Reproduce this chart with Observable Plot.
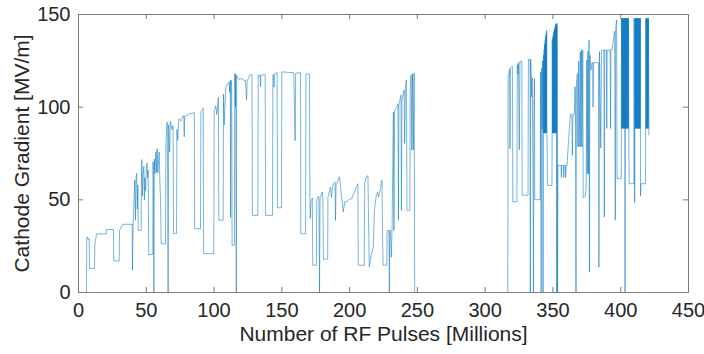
<!DOCTYPE html>
<html>
<head>
<meta charset="utf-8">
<script src="https://cdn.jsdelivr.net/npm/d3@7"></script>
<script src="https://cdn.jsdelivr.net/npm/@observablehq/plot@0.6"></script>
<style>
  html, body { margin: 0; padding: 0; background: #fff; }
  #chart { width: 704px; height: 354px; }
</style>
</head>
<body>
<div id="chart"></div>
<script>
// Number of RF pulses [millions], first campaign (to the long pause)
const pulsesLeft = [
  0, 5.9, 6.1, 6.6, 7.2, 7.9, 8.1, 11.8, 12.1, 13.3, 20.4, 20.6, 25.8, 26, 30, 30.3, 32.5, 39.6, 39.8, 40.3,
  40.8, 41.5, 42, 42.5, 43, 43.4, 43.8, 44.1, 46.2, 46.4, 46.7, 47.2, 47.6, 48.2, 48.6, 49, 49.5, 50, 50.6, 51,
  51.4, 51.8, 54.8, 55, 55.3, 55.6, 55.9, 56.4, 57, 57.5, 58, 58.5, 59.5, 60, 60.5, 61, 64.2, 64.5, 65.4, 65.8,
  66.1, 66.5, 67.2, 67.8, 69, 69.8, 70.1, 72.3, 72.6, 73.2, 74, 75.5, 77, 77.7, 78, 78.3, 80, 81.6, 83, 85.5,
  85.7, 90, 90.3, 92, 92.3, 99.8, 100.1, 101.3, 102, 103.2, 103.5, 106.7, 107, 107.5, 108.6, 110, 111.1, 111.5, 112, 112.2,
  112.5, 113, 113.3, 115, 115.3, 115.7, 116, 116.4, 116.7, 118.3, 120, 122, 123.2, 124, 124.4, 126.4, 128, 128.3, 132.3, 132.6,
  134, 134.3, 134.6, 137.7, 138, 143.1, 143.4, 144, 144.3, 144.6, 146.5, 146.8, 149.7, 150, 158.8, 159.8, 160.2, 163.8, 164, 167.5,
  167.8, 170.4, 170.7, 171, 171.5, 172.5, 172.8, 175.5, 175.8, 177, 177.4, 177.8, 178.2, 179.9, 180.3, 180.7, 183.8, 184, 185.9, 186.5,
  188, 189.3, 189.6, 190, 192.5, 193.5, 195.3, 196.5, 198.2, 200, 201.5, 206.1, 206.4, 210.8, 211.1, 212.1, 213.5, 214.5, 216, 217.5,
  218.3, 219.5, 220.6, 221.5, 223.9, 224.3, 224.7, 227.4, 227.7, 229, 229.3, 229.6, 230.2, 230.7, 231.3, 232.3, 232.7, 233.2, 234.9, 235.7,
  236, 236.4, 237.9, 238.2, 238.6, 240.2, 240.6, 241.2, 242, 242.3, 244.4, 244.7, 245.4, 245.9, 246.4, 247, 247.6, 248, 316.7
];
// Cathode gradient [MV/m], first campaign
const gradientLeft = [
  0, 0, 29, 30, 28.5, 29, 13, 13, 26, 31.6, 31.6, 34, 34, 17, 17, 33.5, 36.8, 36.8, 12, 38,
  46, 60.7, 39, 63, 64.3, 45, 58, 33.5, 33.5, 60, 71.7, 52, 65, 68, 50, 62, 55, 66, 70, 62,
  66, 20.5, 20.5, 70.5, 60, 0, 72, 64, 75.8, 65, 77.5, 64.3, 75.8, 60.7, 50, 26.3, 26.3, 81.3, 92, 60,
  0, 90.5, 75.8, 92.3, 88, 90, 31.8, 31.8, 88, 82, 93.8, 92.5, 95, 95.6, 84, 95, 95.5, 96.5, 96.5, 97,
  34.4, 34.4, 97.7, 99.5, 21, 21, 98, 100.7, 96, 105.3, 39, 39, 107, 90.5, 110.8, 112.6, 113.5, 108, 114.5, 40.4,
  114.5, 113, 25.5, 25.5, 118, 100, 118, 0, 117, 115, 115.5, 114.5, 114.5, 104, 114, 117.4, 117.4, 41.6, 41.6, 117.4,
  117, 111, 117.4, 117.4, 41.6, 41.6, 117.4, 117.5, 110.8, 118, 118.6, 45.7, 45.7, 119, 118.6, 82, 118.3, 118.6, 31.7, 31.7,
  118, 117.8, 50, 40, 49, 51, 14.7, 14.7, 50, 52, 50, 0, 51, 54.2, 50, 18, 18, 51.5, 56.9, 51.5,
  58.7, 59.6, 38.9, 58, 62.4, 56, 43.5, 49, 49, 50.5, 50.5, 58.7, 14.7, 14.7, 58.7, 62.3, 63, 13.8, 20.6, 24,
  44.3, 51.6, 54.2, 51.6, 60.6, 31.7, 14.7, 14.7, 33.5, 33.5, 0, 33.5, 33.5, 19, 33.5, 97.4, 33.5, 98, 100, 101.8,
  39, 101.5, 106.5, 44.3, 103, 109.2, 80.4, 112, 114.7, 44.3, 44.3, 110, 117.4, 76.9, 118, 76.9, 118.5, 0, 0
];
// Number of RF pulses [millions], second campaign
const pulsesRight = [
  316.9, 317.5, 318, 318.3, 318.6, 320.1, 320.4, 323.4, 323.7, 324.3,
  324.5, 325.2, 325.6, 327, 327.3, 331.6, 331.9, 333.1, 333.3, 333.6,
  334.3, 334.7, 335.3, 335.6, 336, 336.4, 336.6, 340.6, 340.9, 341.3,
  341.6, 342, 342.4, 342.7, 343, 343.2, 343.4, 343.6, 343.8, 344,
  344.2, 344.4, 344.6, 344.8, 345, 345.2, 345.4, 345.6, 346, 349.3,
  349.5, 349.7, 349.9, 350.1, 350.3, 350.5, 350.7, 350.9, 351.1, 351.3,
  351.5, 351.7, 351.9, 352.1, 352.3, 352.5, 352.6, 352.8, 353.1, 353.4,
  353.7, 356, 356.2, 356.5, 357.8, 358, 358.3, 359.2, 359.4, 359.7,
  360.4, 361.5, 362.9, 364, 364.3, 364.7, 365.8, 366.3, 366.6, 367,
  367.3, 368, 368.4, 369, 369.3, 370.2, 370.5, 371, 371.4, 372,
  372.3, 373.8, 374.5, 375, 375.3, 375.8, 376.2, 376.6, 376.9, 377.3,
  378, 378.8, 379.3, 379.6, 380, 383.6, 383.9, 384.3, 385.3, 385.8,
  387.6, 387.9, 388.2, 389.4, 389.7, 390, 392.2, 392.5, 392.8, 393.6,
  394.5, 395.5, 396, 396.3, 397, 397.3, 400.4, 400.6, 400.8, 401,
  401.2, 401.4, 401.6, 401.8, 402, 402.2, 402.4, 402.6, 402.8, 403,
  403.2, 403.4, 403.6, 403.8, 404, 404.2, 404.4, 404.6, 404.8, 405,
  405.2, 405.4, 405.6, 405.8, 406, 406.2, 409.7, 409.9, 410.1, 410.3,
  410.5, 410.7, 410.9, 411.1, 411.3, 411.5, 411.7, 411.9, 412.1, 412.3,
  412.5, 412.7, 412.9, 413.1, 413.3, 413.5, 413.7, 413.9, 414.1, 414.3,
  414.5, 414.6, 415, 418.3, 418.5, 418.7, 418.9, 419.1, 419.3, 419.5,
  419.7, 419.9, 420.1, 420.3, 420.5, 420.8
];
// Cathode gradient [MV/m], second campaign
const gradientRight = [
  117.4, 118, 120.4, 77.5, 121.3, 122, 49, 49, 123, 118,
  124, 77, 124.5, 124.8, 52.5, 52.5, 125.8, 125.8, 0, 125.8,
  105.5, 116, 57.8, 0, 104.6, 115.5, 50.1, 50.1, 119, 0,
  121, 88, 125, 0, 128, 86, 131, 86, 134, 86,
  136, 86, 138.5, 86, 140, 86, 141.6, 86, 57.8, 57.8,
  136, 86, 138, 86, 139.5, 86, 141, 86, 142.3, 86,
  143.3, 86, 144.4, 86, 145, 86, 145.2, 0, 145, 0,
  68.6, 68.6, 62, 68.6, 68.6, 62, 68.6, 68.6, 62, 68.6,
  68.6, 82, 96.2, 96, 74, 96, 96.2, 111, 104, 0,
  112, 118, 78.6, 125, 78.6, 129.9, 78.6, 131, 78.6, 130.8,
  51, 52, 56, 125.4, 64, 130, 64, 136.2, 11, 128,
  120, 124, 124, 100, 124, 124, 13.7, 130, 78, 130.5,
  131, 40.7, 130.8, 130.8, 88.5, 130.8, 130.8, 88.5, 131, 131,
  136, 141, 39, 143, 147, 61.4, 61.4, 148, 88.5, 148,
  88.5, 148, 88.5, 148, 88.5, 148, 88.5, 148, 88.5, 148,
  0, 148, 88.5, 148, 88.5, 148, 88.5, 148, 88.5, 148,
  88.5, 148, 88.5, 148, 88.5, 58.7, 58.7, 148, 88.5, 48.4,
  148, 88.5, 148, 88.5, 148, 88.5, 148, 88.5, 148, 88.5,
  148, 88.5, 148, 88.5, 148, 88.5, 148, 88.5, 148, 88.5,
  148, 52, 58.7, 58.7, 148, 88.5, 148, 88.5, 148, 88.5,
  148, 88.5, 148, 88.5, 148, 85
];
const xTicks = [0, 50, 100, 150, 200, 250, 300, 350, 400, 450];
const yTicks = [0, 50, 100, 150];
const xLabel = "Number of RF Pulses [Millions]";
const yLabel = "Cathode Gradient [MV/m]";

const pulses = pulsesLeft.concat(pulsesRight);
const gradient = gradientLeft.concat(gradientRight);
const data = pulses.map((x, i) => ({x, y: gradient[i]}));

const W = 704, H = 354, mL = 78, mR = 16, mT = 14, mB = 62;
const fw = W - mL - mR, fh = H - mT - mB;
const axisColor = "#7a7a7a";
const textColor = "#262626";

const chart = Plot.plot({
  width: W, height: H,
  marginLeft: mL, marginRight: mR, marginTop: mT, marginBottom: mB,
  style: {fontFamily: "'Liberation Sans', Arial, sans-serif", fontSize: "20px", color: textColor, background: "#fff", overflow: "visible"},
  x: {domain: [0, 450]},
  y: {domain: [0, 150]},
  marks: [
    Plot.line(data, {x: "x", y: "y", stroke: "#0072BD", strokeWidth: 0.75, strokeOpacity: 0.7}),
    Plot.frame({stroke: axisColor, strokeWidth: 1}),
    Plot.tickX(xTicks, {x: d => d, insetTop: fh - 5, stroke: axisColor}),
    Plot.tickX(xTicks, {x: d => d, insetBottom: fh - 5, stroke: axisColor}),
    Plot.tickY(yTicks, {y: d => d, insetRight: fw - 5, stroke: axisColor}),
    Plot.tickY(yTicks, {y: d => d, insetLeft: fw - 5, stroke: axisColor}),
    Plot.axisX({ticks: xTicks, tickSize: 0, tickPadding: 10, fontSize: 20, label: null, fill: textColor}),
    Plot.axisY({ticks: yTicks, tickSize: 0, tickPadding: 8, fontSize: 20, label: null, fill: textColor}),
    Plot.text([xLabel], {frameAnchor: "bottom", dy: 48, fontSize: 21, fill: textColor, text: d => d}),
    Plot.text([yLabel], {frameAnchor: "left", dx: -56, rotate: -90, textAnchor: "middle", fontSize: 21, fill: textColor, text: d => d})
  ]
});
document.getElementById("chart").appendChild(chart);
</script>
</body>
</html>
